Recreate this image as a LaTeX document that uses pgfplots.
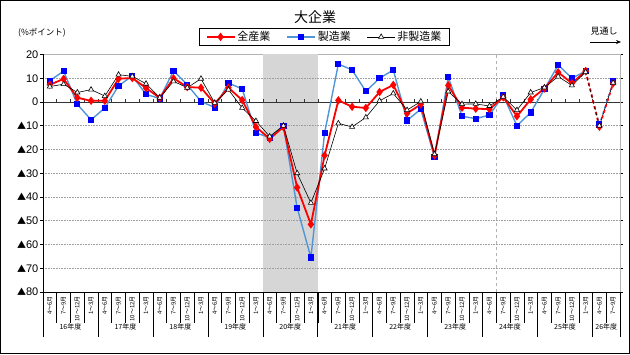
\documentclass[border=0pt]{standalone}
\usepackage{fontspec}
\setmainfont{Liberation Sans}
\newfontfamily\jp{Noto Sans CJK JP}
\usepackage{pgfplots}
\usepackage{pgfplotstable}
\pgfplotsset{compat=1.18}
\usetikzlibrary{arrows.meta}
\definecolor{lineblue}{RGB}{80,150,215}
\definecolor{mkblue}{RGB}{0,0,255}
\newcommand\tri{{\jp\fontsize{9}{9}\selectfont ▲}}
\pgfplotstableread{
x all mfg non
0 7.3 9 6.5
1 9.7 13 7.5
2 1.8 -1 4
3 0.5 -7.5 5.2
4 0.5 -2.5 2.5
5 9.8 6.8 11.5
6 10.1 11 10.8
7 5.9 3.2 7.7
8 1.7 1.5 1.8
9 10 13.1 8.7
10 6.3 7.3 6
11 6 0.2 9.8
12 -0.7 -2.3 -0.4
13 6 8 5.2
14 0.8 5.5 -2.5
15 -10.5 -13 -8
16 -15.5 -15 -14.5
17 -10.5 -10 -10
18 -36 -44.5 -30
19 -51.5 -65.5 -42.5
20 -22.5 -13 -28
21 0.7 16 -9
22 -2 13.5 -10.5
23 -2.5 4.5 -6.5
24 4.2 10 0.5
25 7.2 13.5 3.6
26 -4.8 -7.8 -3.4
27 -1 -3 0.2
28 -22.5 -23.3 -22
29 7 10.5 4.4
30 -2.4 -6 -0.9
31 -2.8 -7 -0.8
32 -3 -5.5 -1.7
33 2 2.7 2.2
34 -6 -10 -3.4
35 1.1 -4.4 4
36 5.7 5.4 6.1
37 12.5 15.6 10.7
38 7.9 10 7
39 13 13 12.6
40 -10.4 -9.5 -10
41 7.9 8.6 8.1
}\data
\begin{document}
\begin{tikzpicture}
\path[use as bounding box] (0,0) rectangle (630pt,354pt);
\draw[line width=1pt] (0.5pt,0.5pt) rectangle (629.5pt,353.5pt);
\node[font=\jp\fontsize{14}{14}\selectfont] at (315pt,337pt) {大企業};
\node[font=\jp\fontsize{8.5}{9}\selectfont] at (42pt,321pt) {(\%ポイント)};
\node[font=\jp\fontsize{9}{9}\selectfont] at (604pt,323pt) {見通し};
\draw[line width=0.6pt,-{Stealth[length=5pt,width=4pt]}] (590pt,312pt) -- (621pt,312pt);
\begin{axis}[
  at={(43pt,62pt)}, anchor=south west,
  scale only axis, width=577pt, height=237.5pt,
  clip=false,
  xmin=-0.5, xmax=41.5, ymin=-80, ymax=20,
  axis line style={draw=gray!60, line width=0.5pt},
  ytick={-80,-70,...,20},
  yticklabels={\tri80,\tri70,\tri60,\tri50,\tri40,\tri30,\tri20,\tri10,0,10,20},
  y tick label style={font=\fontsize{11}{12}\selectfont, inner sep=1.5pt},
  ytick style={draw=black, line width=0.5pt},
  tick align=outside, major tick length=3pt,
  xtick={0,...,41},
  xticklabels={4～6月,7～9月,10～12月,1～3月,4～6月,7～9月,10～12月,1～3月,4～6月,7～9月,10～12月,1～3月,4～6月,7～9月,10～12月,1～3月,4～6月,7～9月,10～12月,1～3月,4～6月,7～9月,10～12月,1～3月,4～6月,7～9月,10～12月,1～3月,4～6月,7～9月,10～12月,1～3月,4～6月,7～9月,10～12月,1～3月,4～6月,7～9月,10～12月,1～3月,4～6月,7～9月},
  x tick label style={font=\jp\fontsize{6}{6}\selectfont, rotate=90, anchor=east, inner sep=1pt},
  xtick style={draw=none},
  legend style={at={(0.488,1.074)}, anchor=center, draw=black, line width=0.7pt,
    font=\jp\fontsize{11}{12}\selectfont, inner xsep=6pt, inner ysep=1.5pt,
    /tikz/every even column/.append style={column sep=14pt}},
  legend columns=3,
  legend image code/.code={\draw[mark repeat=2,mark phase=2,#1] plot coordinates {(0pt,0pt)(14pt,0pt)(28pt,0pt)};},
]
\addlegendimage{red, line width=1.8pt, mark=diamond*, mark size=2.8pt}
\addlegendentry{全産業}
\addlegendimage{lineblue, line width=1.4pt, mark=square*, mark size=2.4pt, mark options={fill=mkblue, draw=mkblue}}
\addlegendentry{製造業}
\addlegendimage{black, line width=0.6pt, mark=triangle*, mark size=3pt, mark options={fill=white, draw=black}}
\addlegendentry{非製造業}

\fill[gray!32] (axis cs:15.5,-80) rectangle (axis cs:19.5,20);
\pgfplotsinvokeforeach{-70,-60,...,10}{\draw[gray!75, densely dotted, line width=0.6pt] (axis cs:-0.5,#1) -- (axis cs:41.5,#1);}
\draw[gray!60, dashed, line width=0.6pt] (axis cs:32.5,-80) -- (axis cs:32.5,20);
\draw[black!80, line width=0.8pt] (axis cs:-0.5,0) -- (axis cs:41.5,0);
\pgfplotsinvokeforeach{1,...,41}{\draw[black!80, line width=0.5pt] (axis cs:#1-0.5,0) -- ++(0pt,2.5pt);}
\draw[black, line width=0.8pt] (axis cs:-0.5,-80) -- (axis cs:-0.5,20);
\draw[black, line width=0.6pt] (axis cs:-0.5,-80) -- (axis cs:41.5,-80);
\pgfplotsinvokeforeach{0,...,41}{\draw[black, line width=0.5pt] (axis cs:#1-0.5,-80) -- ++(0pt,-31pt);}
\pgfplotsinvokeforeach{0,...,10}{\draw[black, line width=0.6pt] (axis cs:4*#1-0.5,-80) -- ++(0pt,-45pt);}
\draw[black, line width=0.6pt] (axis cs:41.5,-80) -- ++(0pt,-45pt);
\pgfplotsinvokeforeach{0,...,9}{\node[font=\jp\fontsize{7}{7}\selectfont] at (axis cs:4*#1+1.5,-80) [yshift=-35pt] {\the\numexpr16+#1\relax 年度};}
\node[font=\jp\fontsize{7}{7}\selectfont] at (axis cs:40.5,-80) [yshift=-35pt] {26年度};

\addplot[forget plot, lineblue, line width=1.4pt, mark=square*, mark size=2.4pt, mark options={fill=mkblue, draw=mkblue, solid}, restrict x to domain=0:39] table[x=x,y=mfg]{\data};
\addplot[forget plot, lineblue, line width=1.4pt, dashed, mark=square*, mark size=2.4pt, mark options={fill=mkblue, draw=mkblue, solid}, restrict x to domain=39:41] table[x=x,y=mfg]{\data};
\addplot[forget plot, red, line width=1.8pt, mark=diamond*, mark size=2.8pt, mark options={solid}, restrict x to domain=0:39] table[x=x,y=all]{\data};
\addplot[forget plot, red, line width=1.8pt, dashed, mark=diamond*, mark size=2.8pt, mark options={solid}, restrict x to domain=39:41] table[x=x,y=all]{\data};
\addplot[forget plot, black, line width=0.6pt, mark=triangle*, mark size=3pt, mark options={fill=white, draw=black, solid}, restrict x to domain=0:39] table[x=x,y=non]{\data};
\addplot[forget plot, black, line width=0.6pt, dashed, mark=triangle*, mark size=3pt, mark options={fill=white, draw=black, solid}, restrict x to domain=39:41] table[x=x,y=non]{\data};
\end{axis}
\end{tikzpicture}
\end{document}
